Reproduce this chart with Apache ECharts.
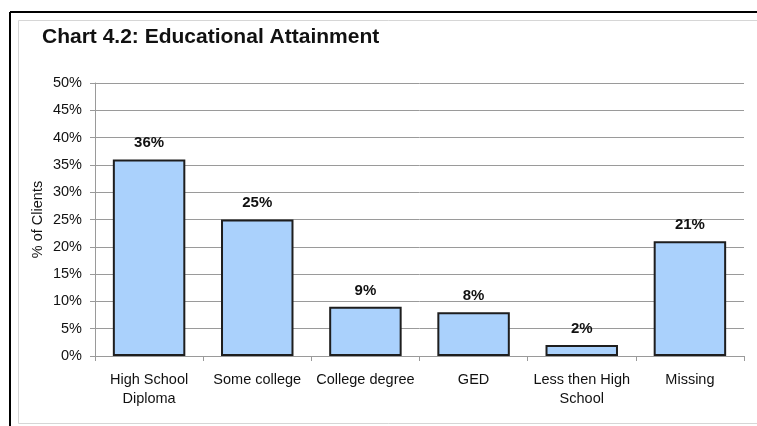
<!DOCTYPE html>
<html>
<head>
<meta charset="utf-8">
<script src="https://cdn.jsdelivr.net/npm/echarts@6/dist/echarts.min.js"></script>
<style>
  html, body { margin: 0; padding: 0; background: #fff; }
  #chart { width: 757px; height: 426px; }
</style>
</head>
<body>
<div id="chart"></div>
<script>
// Educational attainment of clients, percent share
const categories = ['High School\nDiploma', 'Some college', 'College degree', 'GED', 'Less then High\nSchool', 'Missing'];
const shares = [36, 25, 9, 8, 2, 21];
const yTicks = { min: 0, max: 50, step: 5 };

const chart = echarts.init(document.getElementById('chart'));
const font = '"Liberation Sans", Arial, sans-serif';

chart.setOption({
  animation: false,
  backgroundColor: '#fff',
  textStyle: { fontFamily: font },
  graphic: [
    // page frame
    { type: 'line', shape: { x1: 10, y1: 12, x2: 760, y2: 12 }, style: { stroke: '#000', lineWidth: 2 } },
    { type: 'line', shape: { x1: 10, y1: 12, x2: 10, y2: 430 }, style: { stroke: '#000', lineWidth: 2 } },
    // chart border
    { type: 'rect', shape: { x: 18.5, y: 20.5, width: 760, height: 403 }, style: { fill: 'none', stroke: '#d6d6d6', lineWidth: 1 } }
  ],
  title: {
    text: 'Chart 4.2: Educational Attainment',
    left: 37, top: 22,
    textStyle: { fontFamily: font, fontSize: 21, fontWeight: 'bold', color: '#111' }
  },
  grid: { left: 95, right: 13, top: 83, bottom: 70 },
  xAxis: {
    type: 'category',
    data: categories,
    axisLine: { lineStyle: { color: '#9a9a9a', width: 1 } },
    axisTick: { show: true, alignWithLabel: false, length: 5, lineStyle: { color: '#9a9a9a' } },
    axisLabel: { color: '#111', fontSize: 14.5, fontFamily: font, margin: 14, lineHeight: 19, interval: 0 }
  },
  yAxis: {
    type: 'value',
    min: yTicks.min, max: yTicks.max, interval: yTicks.step,
    name: '% of Clients',
    nameLocation: 'middle',
    nameRotate: 90,
    nameGap: 50,
    nameMoveOverlap: false,
    nameTextStyle: { color: '#111', fontSize: 14.5, fontFamily: font },
    axisLine: { show: true, lineStyle: { color: '#9a9a9a', width: 1 } },
    axisTick: { show: true, length: 5, lineStyle: { color: '#9a9a9a' } },
    axisLabel: { color: '#111', fontSize: 14.5, fontFamily: font, margin: 13, formatter: '{value}%' },
    splitLine: { show: true, lineStyle: { color: '#9a9a9a', width: 1 } }
  },
  series: [{
    type: 'bar',
    data: shares,
    barWidth: '67%',
    itemStyle: { color: '#aad1fc', borderColor: '#1e1e1e', borderWidth: 2 },
    label: {
      show: true, position: 'top', distance: 9,
      formatter: '{c}%',
      color: '#111', fontSize: 15, fontWeight: 'bold', fontFamily: font
    }
  }]
});
</script>
</body>
</html>
